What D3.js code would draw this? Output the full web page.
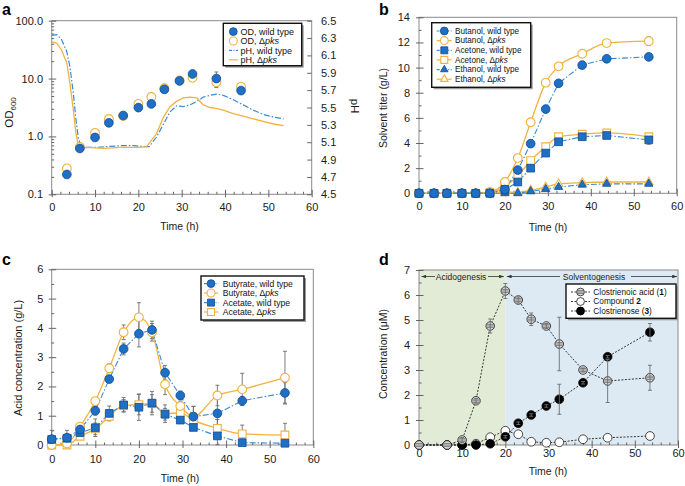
<!DOCTYPE html>
<html><head><meta charset="utf-8">
<script src="https://cdn.jsdelivr.net/npm/d3@7/dist/d3.min.js"></script>
<style>body{margin:0;background:#fff}</style>
</head><body>
<svg id="chart" width="685" height="486" xmlns="http://www.w3.org/2000/svg"></svg>
<script>
// ---------------- data ----------------
const xTicks = [0, 10, 20, 30, 40, 50, 60];

// panel a
const odTicks = [0.1, 1, 10, 100];
const phTicks = [4.5, 4.7, 4.9, 5.1, 5.3, 5.5, 5.7, 5.9, 6.1, 6.3, 6.5];
const timeOD = [3.5, 6.5, 10, 13.2, 16.5, 20, 23, 26, 29.5, 32.5, 38, 43.7];
const odWT = [0.22, 0.62, 0.96, 1.72, 2.3, 3.15, 3.65, 6.5, 9.1, 12.0, 10.0, 6.2];
const odWTerr = [0, 0, 0, 0, 0, 0, 0, 0, 0, 1.5, 3.0, 0];
const odPks = [0.28, 0.66, 1.15, 2.0, 2.25, 3.65, 4.8, 6.8, 9.3, 10.3, 8.6, 7.2];
const odPksErr = [0, 0, 0, 0, 0, 0, 0, 0, 0, 0, 0, 1.0];
const timePhWT = [0, 1.2, 2.3, 3.5, 4.2, 5, 5.6, 6.2, 6.9, 8, 10, 13, 16, 19, 21, 22.5, 24.2, 25.8, 27.3, 28.8, 30.4, 31.9, 33.5, 35, 36.5, 38, 39.6, 41.9, 44.2, 46.5, 48.8, 51.2, 53.5];
const phWT = [6.33, 6.34, 6.28, 6.14, 5.97, 5.66, 5.36, 5.13, 5.05, 5.04, 5.04, 5.05, 5.06, 5.06, 5.05, 5.05, 5.16, 5.31, 5.45, 5.52, 5.51, 5.53, 5.57, 5.62, 5.64, 5.655, 5.64, 5.59, 5.53, 5.47, 5.42, 5.39, 5.37];
const timePhPks = [0, 1.2, 2.3, 3.5, 4.2, 5, 5.6, 6.2, 6.6, 8, 12, 16, 20, 21.9, 22.7, 24.2, 25.8, 27.3, 28.8, 30.4, 31.9, 33.5, 35, 36.5, 38, 39.6, 41.9, 44.2, 46.5, 48.8, 51.2, 53.5];
const phPks = [6.26, 6.24, 6.16, 6.01, 5.78, 5.47, 5.2, 5.05, 5.03, 5.04, 5.03, 5.04, 5.04, 5.05, 5.1, 5.2, 5.39, 5.51, 5.57, 5.61, 5.62, 5.61, 5.53, 5.5, 5.49, 5.47, 5.43, 5.4, 5.37, 5.34, 5.31, 5.29];

// panel b
const solventTicks = [0, 2, 4, 6, 8, 10, 12, 14];
const timeB = [0, 3.5, 6.5, 10, 13.2, 16.5, 20, 23, 26, 29.5, 32.5, 38, 43.7, 53.5];
const butanolWT = [0, 0, 0, 0, 0, 0, 0.3, 1.85, 3.95, 6.7, 8.75, 10.2, 10.7, 10.85];
const butanolWTerr = [0, 0, 0, 0, 0, 0, 0, 0, 0, 0, 0, 0.15, 0.15, 0.2];
const butanolPks = [0, 0, 0, 0, 0, 0.1, 0.9, 2.8, 5.65, 8.8, 10.1, 11.1, 11.95, 12.1];
const butanolPksErr = [0, 0, 0, 0, 0, 0, 0, 0, 0, 0, 0, 0.2, 0, 0.35];
const acetoneWT = [0, 0, 0, 0, 0, 0, 0.3, 0.9, 2.0, 3.2, 4.1, 4.5, 4.6, 4.25];
const acetoneWTerr = [0, 0, 0, 0, 0, 0, 0, 0, 0, 0, 0, 0.2, 0.15, 0.35];
const acetonePks = [0, 0, 0, 0, 0, 0.05, 0.55, 1.4, 2.6, 3.7, 4.5, 4.7, 4.8, 4.5];
const ethanolWT = [0, 0, 0, 0, 0, 0, 0, 0, 0.15, 0.33, 0.5, 0.68, 0.75, 0.75];
const ethanolPks = [0, 0, 0, 0, 0, 0.05, 0.1, 0.08, 0.25, 0.5, 0.75, 0.85, 0.9, 0.9];

// panel c
const acidTicks = [0, 1, 2, 3, 4, 5, 6];
const butyrateWT = [0.2, 0.25, 0.53, 1.17, 2.25, 3.28, 3.8, 3.93, 2.47, 1.69, 0.97, 1.08, 1.51, 1.78];
const butyrateWTerr = [0.3, 0.25, 0.1, 0.15, 0.1, 0.2, 0.45, 0.3, 0.25, 0.15, 0.35, 0.55, 0.15, 0.35];
const butyratePks = [0, 0.05, 0.63, 1.5, 2.62, 3.85, 4.36, 3.85, 2.07, 1.33, 0.97, 1.69, 1.9, 2.3];
const butyratePksErr = [0, 0, 0.1, 0.1, 0.15, 0.25, 0.5, 0.3, 0.35, 0.15, 0.35, 0.35, 0.55, 0.9];
const acetateWT = [0.19, 0.23, 0.42, 0.59, 1.08, 1.37, 1.29, 1.43, 1.05, 0.85, 0.6, 0.31, 0.08, 0.06];
const acetateWTerr = [0.1, 0.1, 0.15, 0.3, 0.25, 0.25, 0.45, 0.4, 0.2, 0.1, 0.1, 0.3, 0.05, 0.05];
const acetatePks = [0, 0, 0.3, 0.55, 0.98, 1.35, 1.38, 1.42, 1.07, 1.1, 0.85, 0.57, 0.38, 0.34];
const acetatePksErr = [0, 0, 0.1, 0.2, 0.15, 0.2, 0.35, 0.3, 0.3, 0.2, 0.2, 0.3, 0.3, 0.4];

// panel d
const concTicks = [0, 1, 2, 3, 4, 5, 6, 7];
const timeD = [0, 6.5, 10, 13.2, 16.5, 20, 23, 26, 29.5, 32.5, 38, 43.7, 53.5];
const acid1 = [0, 0, 0.2, 1.77, 4.76, 6.16, 5.8, 5.03, 4.76, 4.04, 3.0, 2.56, 2.69];
const acid1err = [0, 0, 0.1, 0.1, 0.28, 0.3, 0.12, 0.25, 0.1, 1.07, 0.08, 0.86, 0.5];
const compound2 = [0, 0, 0, 0.05, 0.31, 0.57, 0.43, 0.13, 0.09, 0.11, 0.23, 0.29, 0.36];
const clostrienose3 = [0, 0, 0, 0, 0.05, 0.33, 0.87, 1.2, 1.56, 1.83, 2.49, 3.53, 4.51];
const clostrienose3err = [0, 0, 0, 0, 0, 0.05, 0.05, 0.05, 0.05, 0.6, 0.05, 0.05, 0.35];
const phases = [{name: "Acidogenesis", from: 0, to: 20}, {name: "Solventogenesis", from: 20, to: 60}];

// ---------------- style ----------------
const F = "'Liberation Sans', Arial, Helvetica, sans-serif";
const BLUE = "#1f6fc5", BLUE_D = "#0c4d94", BLUE_L = "#3a8ad6", ORANGE = "#f2b23e", ERR = "#6e6e6e", TICK = "#555";
const DASHDOT = "6,2,1.5,2";
const svg = d3.select("#chart");

const xMinor = d3.range(0, 61, 2).filter(v => v % 10 !== 0);

function axisGroup(gen, tr, vals, inner, pad, fmt, labels) {
  const a = gen.tickValues(vals).tickSizeInner(inner).tickSizeOuter(0).tickPadding(pad)
    .tickFormat(labels ? fmt : () => "");
  const g = svg.append("g").attr("transform", tr).call(a);
  g.select(".domain").remove();
  g.selectAll(".tick line").attr("stroke", TICK).attr("stroke-width", 0.9);
  g.selectAll(".tick text").attr("font-family", F).attr("font-size", 11).attr("fill", "#1a1a1a");
  return g;
}
function frame(x, y) {
  const [x0, x1] = x.range(), [yb, yt] = y.range();
  svg.append("rect").attr("x", x0).attr("y", yt).attr("width", x1 - x0).attr("height", yb - yt)
    .attr("fill", "none").attr("stroke", "#8a8a8a").attr("stroke-width", 1);
}
function drawAxes(x, y, o) {
  const [x0] = x.range(), [yb] = y.range();
  const bt = `translate(0,${yb})`, lt = `translate(${x0},0)`;
  axisGroup(d3.axisBottom(x), bt, xMinor, -2.5, 0, null, false);
  axisGroup(d3.axisBottom(x), bt, xTicks, 3, 0, null, false);
  axisGroup(d3.axisBottom(x), bt, xTicks, -4.5, o.padX, d3.format("d"), true);
  if (o.yMinor) axisGroup(d3.axisLeft(y), lt, o.yMinor, -2.5, 0, null, false);
  axisGroup(d3.axisLeft(y), lt, o.yTicks, 3, 0, null, false);
  axisGroup(d3.axisLeft(y), lt, o.yTicks, -4.5, o.padY, o.yFmt, true);
}
function marker(type, cx, cy, st) {
  const k = st.k || 1;
  if (type === "hatched") {
    const g = svg.append("g");
    g.append("circle").attr("cx", cx).attr("cy", cy).attr("r", 4.3 * k).attr("fill", "#dcdcdc").attr("stroke", "#333").attr("stroke-width", 0.9);
    [-1.6, 0, 1.6].forEach(o => g.append("line").attr("x1", cx - 3.5 * k).attr("x2", cx + 3.5 * k)
      .attr("y1", cy + o * k).attr("y2", cy + o * k).attr("stroke", "#444").attr("stroke-width", 0.6));
    return;
  }
  const sym = {circle: d3.symbolCircle, square: d3.symbolSquare, triangle: d3.symbolTriangle}[type];
  const size = {circle: 60, square: 60, triangle: 30}[type] * k * k;
  svg.append("path").attr("d", d3.symbol(sym, size)()).attr("transform", `translate(${cx},${cy})`)
    .attr("fill", st.fill).attr("stroke", st.stroke).attr("stroke-width", st.sw || 1);
}
function drawLine(x, y, t, v, st) {
  const pts = t.map((d, i) => [d, v[i]]);
  svg.append("path").attr("d", d3.line().x(d => x(d[0])).y(d => y(d[1])).curve(st.curve || d3.curveLinear)(pts))
    .attr("fill", "none").attr("stroke", st.color).attr("stroke-width", st.w || 1.2)
    .attr("stroke-dasharray", st.dash || null);
}
function drawErr(x, y, t, v, e) {
  t.forEach((d, i) => {
    if (!e[i]) return;
    const cx = x(d), lo = Math.max(v[i] - e[i], y.domain()[0]);
    const y1 = y(v[i] + e[i]), y2 = y(lo);
    svg.append("line").attr("x1", cx).attr("x2", cx).attr("y1", y1).attr("y2", y2).attr("stroke", ERR).attr("stroke-width", 0.9);
    [y1, y2].forEach(yy => svg.append("line").attr("x1", cx - 2).attr("x2", cx + 2).attr("y1", yy).attr("y2", yy).attr("stroke", ERR).attr("stroke-width", 0.9));
  });
}
function drawMarkers(x, y, t, v, type, st) {
  t.forEach((d, i) => marker(type, x(d), y(v[i]), st));
}
function legend(L) {
  svg.append("rect").attr("x", L.x + 2).attr("y", L.y + 2).attr("width", L.w).attr("height", L.h).attr("fill", "#9c9c9c");
  svg.append("rect").attr("x", L.x).attr("y", L.y).attr("width", L.w).attr("height", L.h).attr("fill", "#fff").attr("stroke", "#111").attr("stroke-width", 1.4);
  L.items.forEach((it, i) => {
    const yy = L.rows[i];
    if (it.line) svg.append("line").attr("x1", L.sx0).attr("x2", L.sx1).attr("y1", yy).attr("y2", yy)
      .attr("stroke", it.line.color).attr("stroke-width", it.line.w || 1.2).attr("stroke-dasharray", it.line.dash || null);
    if (it.marker) marker(it.marker.type, L.mx, yy, Object.assign({k: 0.9}, it.marker));
    const tx = svg.append("text").attr("x", L.tx).attr("y", yy).attr("dy", "0.35em")
      .attr("font-family", F).attr("font-size", L.fs).attr("fill", "#111");
    it.label.forEach(s => tx.append("tspan").text(s.t).attr("font-style", s.i ? "italic" : null).attr("font-weight", s.b ? "bold" : null));
  });
}
function text(x, y, s, o = {}) {
  return svg.append("text").attr("x", x).attr("y", y).text(s).attr("font-family", F)
    .attr("font-size", o.fs || 11).attr("fill", o.fill || "#1a1a1a")
    .attr("text-anchor", o.anchor || "middle").attr("font-weight", o.bold ? "bold" : null)
    .attr("transform", o.rot ? `rotate(${o.rot},${x},${y})` : null);
}
const WTfill = {fill: BLUE, stroke: BLUE_D, sw: 0.8};
const PKopen = {fill: "#fff", stroke: ORANGE, sw: 1.1};
const pks = (pre) => [{t: pre + "\u0394"}, {t: "pks", i: true}];
const wt = (pre) => [{t: pre + "wild type"}];

// ---------------- panel a ----------------
{
  const x = d3.scaleLinear().domain([0, 60]).range([51.7, 311.7]);
  const y = d3.scaleLog().domain([0.1, 100]).range([194.3, 20.7]);
  const y2 = d3.scaleLinear().domain([4.5, 6.5]).range([194.3, 20.7]);
  frame(x, y);
  const minor = [];
  [0.1, 1, 10].forEach(dec => d3.range(2, 10).forEach(k => minor.push(k * dec)));
  drawAxes(x, y, {padX: 9, padY: 8.7, yTicks: odTicks, yMinor: minor, yFmt: d3.format(".1f")});
  axisGroup(d3.axisRight(y2), `translate(${x.range()[1]},0)`, phTicks, -4.5, 9.3, d3.format(".1f"), true);

  drawLine(x, y2, timePhWT, phWT, {color: BLUE_L, dash: DASHDOT, w: 1.2});
  drawLine(x, y2, timePhPks, phPks, {color: ORANGE, w: 1.3});
  drawErr(x, y, timeOD, odPks, odPksErr);
  drawErr(x, y, timeOD, odWT, odWTerr);
  drawMarkers(x, y, timeOD, odPks, "circle", PKopen);
  drawMarkers(x, y, timeOD, odWT, "circle", WTfill);

  legend({x: 223.3, y: 23.3, w: 78.4, h: 42.4, rows: [31.6, 41, 50.4, 59.8], sx0: 229, sx1: 238, mx: 233.3, tx: 240.5, fs: 9,
    items: [
      {marker: Object.assign({type: "circle"}, WTfill), label: wt("OD, ")},
      {marker: Object.assign({type: "circle"}, PKopen), label: pks("OD, ")},
      {line: {color: BLUE_L, dash: "3,1.5,1,1.5"}, label: wt("pH, ")},
      {line: {color: ORANGE}, label: pks("pH, ")}
    ]});

  text(179.5, 230, "Time (h)", {fs: 10.5});
  const od = svg.append("text").attr("x", 13).attr("y", 112.5).attr("font-family", F).attr("font-size", 11.5)
    .attr("fill", "#1a1a1a").attr("text-anchor", "middle").attr("transform", "rotate(-90,13,112.5)");
  od.append("tspan").text("OD");
  od.append("tspan").text("600").attr("font-size", 8).attr("dy", 3);
  text(351, 106, "pH", {fs: 11.5, rot: 90});
  text(2, 15, "a", {fs: 16, bold: true, anchor: "start", fill: "#000"});
}

// ---------------- panel b ----------------
{
  const x = d3.scaleLinear().domain([0, 60]).range([419, 676.7]);
  const y = d3.scaleLinear().domain([0, 14]).range([193.3, 17.3]);
  frame(x, y);
  drawAxes(x, y, {padX: 8.7, padY: 9, yTicks: solventTicks, yMinor: d3.range(1, 14, 2), yFmt: d3.format("d")});
  const smooth = d3.curveMonotoneX;
  drawLine(x, y, timeB, butanolPks, {color: ORANGE, w: 1.3, curve: smooth});
  drawLine(x, y, timeB, acetonePks, {color: ORANGE, w: 1.3, curve: smooth});
  drawLine(x, y, timeB, ethanolPks, {color: ORANGE, w: 1.3, curve: smooth});
  drawLine(x, y, timeB, butanolWT, {color: BLUE_L, w: 1.1, dash: DASHDOT});
  drawLine(x, y, timeB, acetoneWT, {color: BLUE_L, w: 1.1, dash: DASHDOT});
  drawLine(x, y, timeB, ethanolWT, {color: BLUE_L, w: 1.1, dash: DASHDOT});
  drawErr(x, y, timeB, butanolPks, butanolPksErr);
  drawErr(x, y, timeB, butanolWT, butanolWTerr);
  drawErr(x, y, timeB, acetoneWT, acetoneWTerr);
  drawMarkers(x, y, timeB, ethanolPks, "triangle", PKopen);
  drawMarkers(x, y, timeB, acetonePks, "square", PKopen);
  drawMarkers(x, y, timeB, butanolPks, "circle", PKopen);
  drawMarkers(x, y, timeB, ethanolWT, "triangle", WTfill);
  drawMarkers(x, y, timeB, acetoneWT, "square", WTfill);
  drawMarkers(x, y, timeB, butanolWT, "circle", WTfill);

  const lb = {color: BLUE_L, dash: "3,1.5,1,1.5"}, lo = {color: ORANGE};
  legend({x: 431.7, y: 22.7, w: 99, h: 64.6, rows: [31, 40.6, 50.3, 59.9, 69.6, 79.2], sx0: 436.7, sx1: 451.7, mx: 444.3, tx: 455, fs: 8.2,
    items: [
      {line: lb, marker: Object.assign({type: "circle"}, WTfill), label: wt("Butanol, ")},
      {line: lo, marker: Object.assign({type: "circle"}, PKopen), label: pks("Butanol, ")},
      {line: lb, marker: Object.assign({type: "square"}, WTfill), label: wt("Acetone, ")},
      {line: lo, marker: Object.assign({type: "square"}, PKopen), label: pks("Acetone, ")},
      {line: lb, marker: Object.assign({type: "triangle"}, WTfill), label: wt("Ethanol, ")},
      {line: lo, marker: Object.assign({type: "triangle"}, PKopen), label: pks("Ethanol, ")}
    ]});
  text(548, 231, "Time (h)", {fs: 10.5});
  text(387, 108, "Solvent titer (g/L)", {fs: 10.5, rot: -90});
  text(379, 15, "b", {fs: 16, bold: true, anchor: "start", fill: "#000"});
}

// ---------------- panel c ----------------
{
  const x = d3.scaleLinear().domain([0, 60]).range([51.7, 313.3]);
  const y = d3.scaleLinear().domain([0, 6]).range([445, 269.3]);
  frame(x, y);
  drawAxes(x, y, {padX: 10.5, padY: 8.4, yTicks: acidTicks, yMinor: d3.range(0.5, 6, 1), yFmt: d3.format("d")});
  const smooth = d3.curveMonotoneX;
  drawLine(x, y, timeB, butyratePks, {color: ORANGE, w: 1.3, curve: smooth});
  drawLine(x, y, timeB, acetatePks, {color: ORANGE, w: 1.3, curve: smooth});
  drawLine(x, y, timeB, butyrateWT, {color: BLUE_L, w: 1.1, dash: DASHDOT});
  drawLine(x, y, timeB, acetateWT, {color: BLUE_L, w: 1.1, dash: DASHDOT});
  drawErr(x, y, timeB, butyratePks, butyratePksErr);
  drawErr(x, y, timeB, butyrateWT, butyrateWTerr);
  drawErr(x, y, timeB, acetatePks, acetatePksErr);
  drawErr(x, y, timeB, acetateWT, acetateWTerr);
  drawMarkers(x, y, timeB, acetatePks, "square", PKopen);
  drawMarkers(x, y, timeB, butyratePks, "circle", PKopen);
  drawMarkers(x, y, timeB, acetateWT, "square", WTfill);
  drawMarkers(x, y, timeB, butyrateWT, "circle", WTfill);

  const lb = {color: BLUE_L, dash: "3,1.5,1,1.5"}, lo = {color: ORANGE};
  legend({x: 201, y: 276, w: 103, h: 44, rows: [283.6, 293, 302.6, 312], sx0: 204, sx1: 218.3, mx: 211, tx: 222.7, fs: 8.6,
    items: [
      {line: lb, marker: Object.assign({type: "circle"}, WTfill), label: wt("Butyrate, ")},
      {line: lo, marker: Object.assign({type: "circle"}, PKopen), label: pks("Butyrate, ")},
      {line: lb, marker: Object.assign({type: "square"}, WTfill), label: wt("Acetate, ")},
      {line: lo, marker: Object.assign({type: "square"}, PKopen), label: pks("Acetate, ")}
    ]});
  text(180, 481.5, "Time (h)", {fs: 10.5});
  text(22, 358, "Acid concentration (g/L)", {fs: 11, rot: -90});
  text(2, 265, "c", {fs: 16, bold: true, anchor: "start", fill: "#000"});
}

// ---------------- panel d ----------------
{
  const x = d3.scaleLinear().domain([0, 60]).range([419, 678]);
  const y = d3.scaleLinear().domain([0, 7]).range([445, 270]);
  const bg = ["#e2ebd5", "#dde9f3"];
  phases.forEach((p, i) => svg.append("rect").attr("x", x(p.from)).attr("y", y(7)).attr("width", x(p.to) - x(p.from))
    .attr("height", y(0) - y(7)).attr("fill", bg[i]));
  frame(x, y);
  drawAxes(x, y, {padX: 4.5, padY: 9, yTicks: concTicks, yMinor: d3.range(0.5, 7, 1), yFmt: d3.format("d")});

  // phase annotations
  const defs = svg.append("defs");
  defs.append("marker").attr("id", "ah").attr("viewBox", "0 0 8 6").attr("refX", 8).attr("refY", 3)
    .attr("markerWidth", 6).attr("markerHeight", 4.5).attr("orient", "auto-start-reverse")
    .append("path").attr("d", "M0,0L8,3L0,6z").attr("fill", "#333");
  const ay = 276.5;
  const annot = [
    {t: phases[0].name, cx: 461, l0: x(phases[0].from) + 2.5, l1: 435, r0: 488, r1: x(phases[0].to) - 1.5},
    {t: phases[1].name, cx: 594, l0: x(phases[1].from) + 1.5, l1: 560, r0: 631, r1: x(phases[1].to) - 1}
  ];
  annot.forEach(a => {
    svg.append("line").attr("x1", a.l1).attr("x2", a.l0).attr("y1", ay).attr("y2", ay).attr("stroke", "#333").attr("stroke-width", 0.8).attr("marker-end", "url(#ah)");
    svg.append("line").attr("x1", a.r0).attr("x2", a.r1).attr("y1", ay).attr("y2", ay).attr("stroke", "#333").attr("stroke-width", 0.8).attr("marker-end", "url(#ah)");
    text(a.cx, ay + 3, a.t, {fs: 8.5, fill: "#222"});
  });

  const dot = {color: "#222", w: 0.9, dash: "2,1.5"};
  drawLine(x, y, timeD, acid1, dot);
  drawLine(x, y, timeD, compound2, dot);
  drawLine(x, y, timeD, clostrienose3, dot);
  drawMarkers(x, y, timeD, compound2, "circle", {fill: "#fff", stroke: "#333", sw: 0.9});
  drawMarkers(x, y, timeD, clostrienose3, "circle", {fill: "#000", stroke: "#000", sw: 0.8});
  drawMarkers(x, y, timeD, acid1, "hatched", {});
  drawErr(x, y, timeD, acid1, acid1err);
  drawErr(x, y, timeD, clostrienose3, clostrienose3err);

  legend({x: 566, y: 284, w: 110, h: 34.3, rows: [292, 301.5, 311], sx0: 571, sx1: 590, mx: 580.5, tx: 593.3, fs: 8.3,
    items: [
      {line: dot, marker: {type: "hatched"}, label: [{t: "Clostrienoic acid ("}, {t: "1", b: true}, {t: ")"}]},
      {line: dot, marker: {type: "circle", fill: "#fff", stroke: "#333", sw: 0.9}, label: [{t: "Compound "}, {t: "2", b: true}]},
      {line: dot, marker: {type: "circle", fill: "#000", stroke: "#000"}, label: [{t: "Clostrienose ("}, {t: "3", b: true}, {t: ")"}]}
    ]});
  text(548, 475, "Time (h)", {fs: 10.5});
  text(387, 354, "Concentration (\u03bcM)", {fs: 10.5, rot: -90});
  text(379, 265, "d", {fs: 16, bold: true, anchor: "start", fill: "#000"});
}
</script>
</body></html>
